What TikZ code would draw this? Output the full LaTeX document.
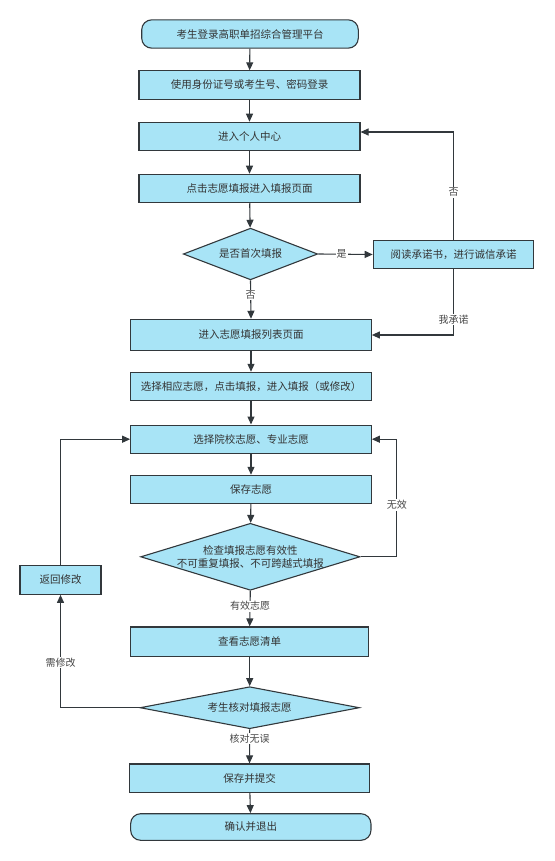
\documentclass[tikz,border=0pt]{standalone}
\usepackage{fontspec}
\setmainfont{Noto Sans CJK SC}
\usetikzlibrary{shapes.geometric, arrows.meta}
\definecolor{boxColor}{RGB}{168,228,246}
\definecolor{lineColor}{RGB}{50,56,60}
\definecolor{textColor}{RGB}{51,51,51}
\definecolor{labelColor}{RGB}{70,70,70}
\tikzstyle{flowchart} = [x = 1pt, y = -1pt, every node/.style={font=\fontsize{10.5}{13.3}\selectfont, text=textColor}]
\tikzstyle{boxStyle} = [draw=lineColor, fill=boxColor, line width=1.1pt, inner sep=0pt]
\tikzstyle{terminalStyle} = [boxStyle, rounded corners=10pt]
\tikzstyle{decisionStyle} = [boxStyle, diamond, aspect=4, align=center]
\tikzstyle{arrowStyle} = [draw=lineColor, line width=1.1pt, -{Triangle[length=8pt, width=7pt]}]
\tikzstyle{labelText} = [fill=white, text=labelColor, inner sep=1pt, font=\fontsize{10}{12}\selectfont]
\newcommand{\processBox}[6]{\node [boxStyle, minimum width=#4, minimum height=#5] (#1) at (#2, #3) {#6};}
\newcommand{\terminalBox}[6]{\node [terminalStyle, minimum width=#4, minimum height=#5] (#1) at (#2, #3) {#6};}
\newcommand{\decisionBox}[7][]{\node [decisionStyle, minimum width=#5, minimum height=#6, #1] (#2) at (#3, #4) {#7};}
\begin{document}
\begin{tikzpicture}[flowchart]
  \useasboundingbox (0,0) rectangle (554,861);

  \terminalBox{start}{250}{34}{216.6}{28.3}{考生登录高职单招综合管理平台}
  \processBox{login}{249.5}{85}{221}{28.3}{使用身份证号或考生号、密码登录}
  \processBox{center}{249.5}{136.5}{221}{28.4}{进入个人中心}
  \processBox{clickFill}{249.5}{188.5}{221}{28.4}{点击志愿填报进入填报页面}
  \decisionBox{firstCheck}{250.5}{254}{134.4}{51.7}{是否首次填报}
  \processBox{promise}{453.5}{254.5}{160.5}{28.7}{阅读承诺书，进行诚信承诺}
  \processBox{listPage}{251}{335}{240.6}{31.4}{进入志愿填报列表页面}
  \processBox{selectWish}{251}{386.5}{240.6}{28.4}{选择相应志愿，点击填报，进入填报（或修改）}
  \processBox{chooseSchool}{251}{439.2}{240.6}{28.3}{选择院校志愿、专业志愿}
  \processBox{saveWish}{251}{489.3}{240.6}{28}{保存志愿}
  \decisionBox[inner xsep=-20pt]{checkValid}{250.3}{556.8}{219.3}{67}{检查填报志愿有效性\\不可重复填报、不可跨越式填报}
  \processBox{backEdit}{60.5}{579.8}{81}{29}{返回修改}
  \processBox{viewList}{249.7}{641.8}{238}{29.7}{查看志愿清单}
  \decisionBox{verify}{249.7}{707.7}{219.3}{42}{考生核对填报志愿}
  \processBox{submit}{249.5}{778.3}{240.4}{28.7}{保存并提交}
  \terminalBox{finish}{250.8}{827}{240.3}{26.6}{确认并退出}

  \draw [arrowStyle] (start) -- (login);
  \draw [arrowStyle] (login) -- (center);
  \draw [arrowStyle] (center) -- (clickFill);
  \draw [arrowStyle] (clickFill) -- (firstCheck);
  \draw [arrowStyle] (firstCheck.east) -- node [labelText, pos=0.43] {是} (promise.west);
  \draw [arrowStyle] (firstCheck.south) -- node [labelText, pos=0.38] {否} (listPage.north);
  \draw [arrowStyle] (promise.north) |- node [labelText, pos=0.22] {否} ([yshift=4.5pt]center.east);
  \draw [arrowStyle] (promise.south) |- node [labelText, pos=0.38] {我承诺} (listPage.east);
  \draw [arrowStyle] (listPage) -- (selectWish);
  \draw [arrowStyle] (selectWish) -- (chooseSchool);
  \draw [arrowStyle] (chooseSchool) -- (saveWish);
  \draw [arrowStyle] (saveWish) -- (checkValid);
  \draw [arrowStyle] (checkValid.east) -| node [labelText, pos=0.72] {无效} ([xshift=25pt]chooseSchool.east) -- (chooseSchool.east);
  \draw [arrowStyle] (checkValid.south) -- node [labelText, pos=0.43] {有效志愿} (viewList.north);
  \draw [arrowStyle] (viewList) -- (verify);
  \draw [arrowStyle] (verify.west) -| node [labelText, pos=0.7] {需修改} (backEdit.south);
  \draw [arrowStyle] (backEdit.north) |- (chooseSchool.west);
  \draw [arrowStyle] (verify.south) -- node [labelText, pos=0.27] {核对无误} (submit.north);
  \draw [arrowStyle] (submit) -- (finish);
\end{tikzpicture}
\end{document}
